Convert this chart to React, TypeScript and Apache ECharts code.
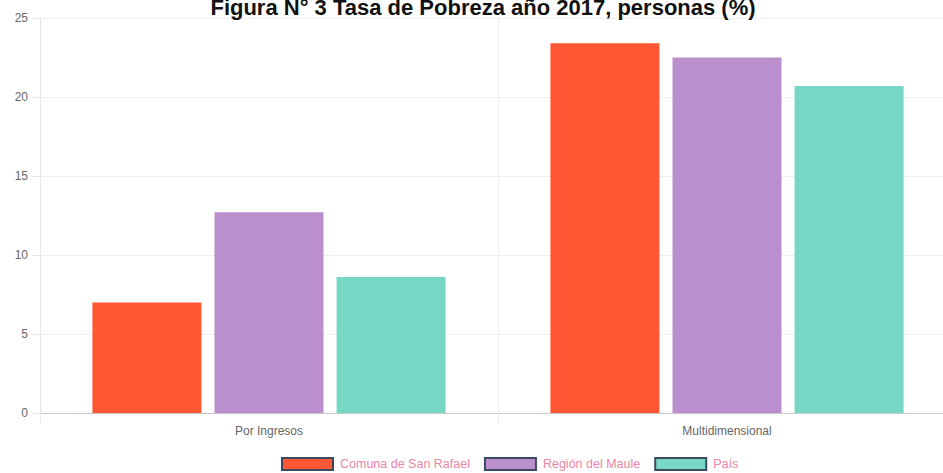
import React, { useEffect, useRef } from "react";
import * as echarts from "echarts";

const categories = ["Por Ingresos", "Multidimensional"];
const seriesNames = ["Comuna de San Rafael", "Región del Maule", "País"];
const sanRafael = [7.0, 23.4];
const maule = [12.7, 22.5];
const pais = [8.6, 20.7];
const colors = ["#FF5733", "#BB8FCE", "#76D7C4"];
const titleText = "Figura N° 3 Tasa de Pobreza año 2017, personas (%)";

export default function App() {
  const ref = useRef<HTMLDivElement>(null);
  useEffect(() => {
    document.body.style.margin = "0";
    const chart = echarts.init(ref.current!, null, { renderer: "svg" });
    const values = [sanRafael, maule, pais];
    chart.setOption({
      animation: false,
      backgroundColor: "#ffffff",
      textStyle: { fontFamily: "Liberation Sans, Arial, sans-serif" },
      title: {
        text: titleText,
        left: 478,
        textAlign: "center",
        top: -9,
        textStyle: { fontSize: 22, fontWeight: "bold", color: "#111111", fontFamily: "Liberation Sans, Arial, sans-serif" },
      },
      legend: {
        left: 276,
        top: 452,
        icon: "rect",
        itemWidth: 51,
        itemHeight: 12,
        itemGap: 14,
        itemStyle: { borderColor: "#3b4a63", borderWidth: 2 },
        textStyle: { color: "#e985a6", fontSize: 12.5, padding: [0, 0, 0, 2] },
        data: seriesNames,
      },
      grid: { left: 40, top: 18, width: 916, bottom: 60, outerBoundsMode: "none", containLabel: false },
      xAxis: {
        type: "category",
        data: categories,
        boundaryGap: true,
        axisLine: { show: true, lineStyle: { color: "#c8c8c8", width: 1 } },
        axisTick: { show: true, length: 10, lineStyle: { color: "#eaeaea" } },
        splitLine: { show: true, lineStyle: { color: "#eeeeee" } },
        axisLabel: { color: "#666666", fontSize: 12, margin: 12 },
      },
      yAxis: {
        type: "value",
        min: 0,
        max: 25,
        interval: 5,
        axisLine: { show: true, lineStyle: { color: "#e6e6e6" } },
        axisTick: { show: true, length: 8, lineStyle: { color: "#e6e6e6" } },
        splitLine: { show: true, lineStyle: { color: "#eeeeee" } },
        axisLabel: { color: "#666666", fontSize: 12, margin: 12 },
      },
      series: seriesNames.map((name, i) => ({
        name,
        type: "bar",
        data: values[i],
        barWidth: 109,
        barGap: "12%",
        itemStyle: { color: colors[i] },
      })),
    });
    return () => chart.dispose();
  }, []);
  return <div ref={ref} style={{ width: 943, height: 473 }} />;
}
